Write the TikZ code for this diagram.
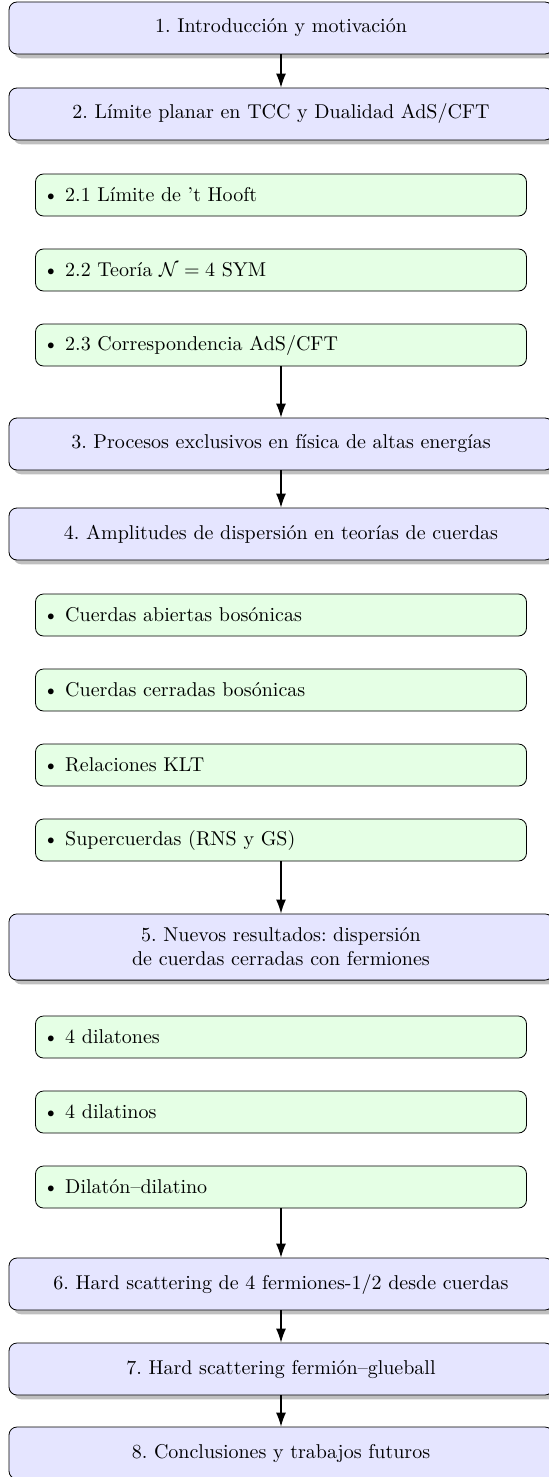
\documentclass[tikz,border=0pt]{standalone}
\usetikzlibrary{shadows,arrows.meta}
\frenchspacing

\tikzstyle{chapter} = [rectangle,draw,rounded corners=4pt,fill=blue!10,drop shadow,minimum width=272pt,text width=256pt,align=center,inner ysep=7pt,minimum height=26pt]
\tikzstyle{section} = [rectangle,draw,rounded corners=4pt,fill=green!10,minimum width=245.5pt,text width=238pt,align=left,minimum height=21pt]
\tikzstyle{edge} = [-{Latex[length=7pt,width=5pt]},line width=.6pt]

\begin{document}
\begin{tikzpicture}[x=1pt,y=1pt]
\useasboundingbox (0,0) rectangle (274,-738.5);

% chapters and sections
\node[chapter] (c1) at (140.5,-14) {1. Introducción y motivación};
\node[chapter] (c2) at (140.5,-57) {2. Límite planar en TCC y Dualidad AdS/CFT};
\node[section] (s21) at (140.5,-97.5) {\textbullet\ 2.1 Límite de 't Hooft};
\node[section] (s22) at (140.5,-135) {\textbullet\ 2.2 Teoría $\mathcal{N}=4$ SYM};
\node[section] (s23) at (140.5,-172.5) {\textbullet\ 2.3 Correspondencia AdS/CFT};
\node[chapter] (c3) at (140.5,-222) {3. Procesos exclusivos en física de altas energías};
\node[chapter] (c4) at (140.5,-267) {4. Amplitudes de dispersión en teorías de cuerdas};
\node[section] (s41) at (140.5,-307.5) {\textbullet\ Cuerdas abiertas bosónicas};
\node[section] (s42) at (140.5,-345) {\textbullet\ Cuerdas cerradas bosónicas};
\node[section] (s43) at (140.5,-382.5) {\textbullet\ Relaciones KLT};
\node[section] (s44) at (140.5,-420) {\textbullet\ Supercuerdas (RNS y GS)};
\node[chapter] (c5) at (140.5,-473.5) {5. Nuevos resultados: dispersión\\de cuerdas cerradas con fermiones};
\node[section] (s51) at (140.5,-518.5) {\textbullet\ 4 dilatones};
\node[section] (s52) at (140.5,-556) {\textbullet\ 4 dilatinos};
\node[section] (s53) at (140.5,-593.5) {\textbullet\ Dilatón--dilatino};
\node[chapter] (c6) at (140.5,-642) {6. Hard scattering de 4 fermiones-1/2 desde cuerdas};
\node[chapter] (c7) at (140.5,-684.5) {7. Hard scattering fermión--glueball};
\node[chapter] (c8) at (140.5,-726.5) {8. Conclusiones y trabajos futuros};

% edges
\foreach \a/\b in {c1/c2,s23/c3,c3/c4,s44/c5,s53/c6,c6/c7,c7/c8} {
    \draw[edge] (\a) -- (\b);
}

\end{tikzpicture}
\end{document}
